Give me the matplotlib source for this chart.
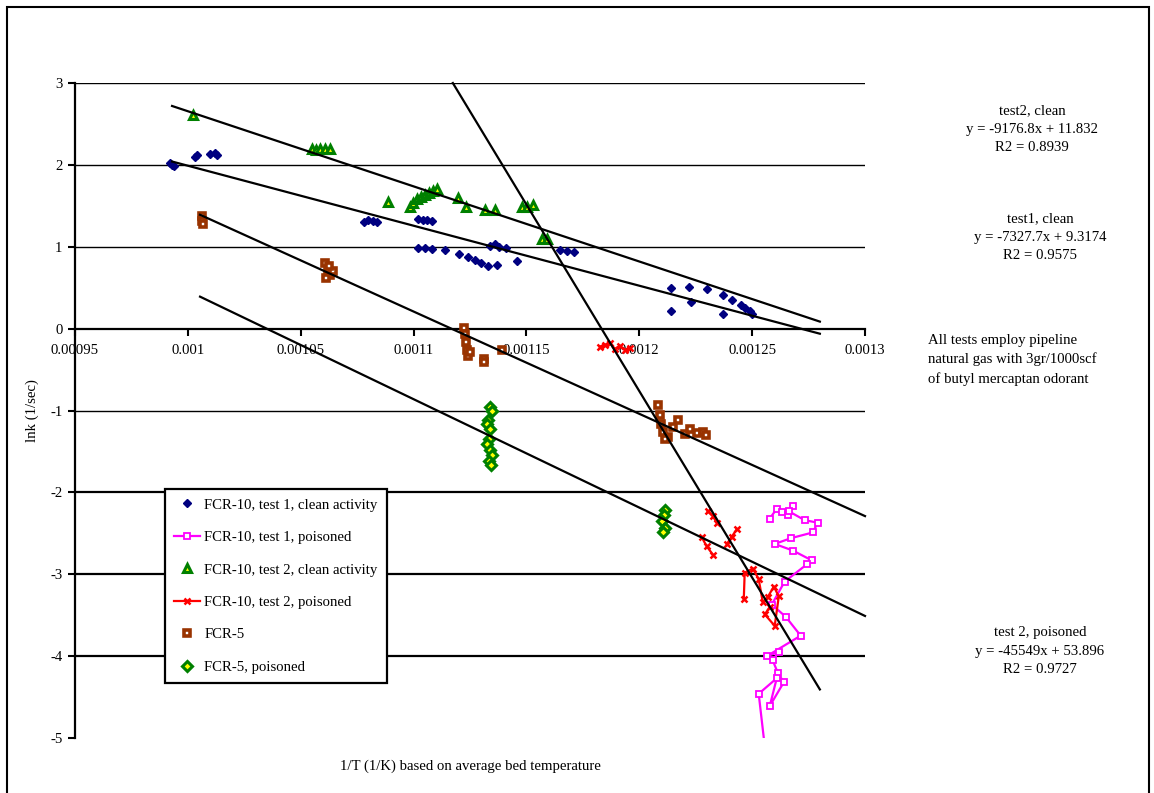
import numpy as np
import matplotlib
matplotlib.use("Agg")
import matplotlib.pyplot as plt
from matplotlib.patches import Rectangle

plt.rcParams['font.family'] = ['Liberation Serif', 'DejaVu Serif']

# ---- axis setup ----
x_ticks = [0.00095, 0.001, 0.00105, 0.0011, 0.00115, 0.0012, 0.00125, 0.0013]
x_tick_labels = ['0.00095', '0.001', '0.00105', '0.0011', '0.00115', '0.0012', '0.00125', '0.0013']
y_ticks = [3, 2, 1, 0, -1, -2, -3, -4, -5]

# ---- FCR-10, test 1, clean activity ----
t1_clean_x = [0.000993, 0.000992, 0.000994, 0.001003, 0.001004, 0.001010, 0.001012, 0.001013,
              0.001078, 0.001080, 0.001082, 0.001084,
              0.001102, 0.001104, 0.001106, 0.001108,
              0.001102, 0.001105, 0.001108, 0.001114, 0.001120, 0.001124, 0.001127, 0.001130,
              0.001133, 0.001137, 0.001134, 0.001136, 0.001138, 0.001141, 0.001146,
              0.001165, 0.001168, 0.001171,
              0.001214, 0.001214, 0.001222, 0.001223, 0.001230, 0.001237, 0.001237, 0.001241,
              0.001245, 0.001247, 0.001249, 0.001250]
t1_clean_y = [2.00, 2.02, 1.99, 2.10, 2.12, 2.13, 2.15, 2.12,
              1.30, 1.33, 1.31, 1.30,
              1.34, 1.33, 1.33, 1.31,
              0.98, 0.98, 0.97, 0.96, 0.91, 0.87, 0.84, 0.80,
              0.77, 0.78, 1.01, 1.03, 1.00, 0.98, 0.82,
              0.96, 0.95, 0.94,
              0.50, 0.21, 0.51, 0.33, 0.48, 0.41, 0.18, 0.35,
              0.29, 0.25, 0.21, 0.18]

# ---- FCR-10, test 1, poisoned ----
t1_pois_x = [0.0012578, 0.0012609, 0.0012631, 0.0012658, 0.0012680, 0.0012662, 0.0012733,
             0.0012791, 0.0012768, 0.0012671, 0.0012600, 0.0012680, 0.0012764, 0.0012742,
             0.0012644, 0.0012587, 0.0012649, 0.0012715, 0.0012565, 0.0012618, 0.0012591,
             0.0012613, 0.0012640, 0.0012578, 0.0012609, 0.0012529, 0.0012560]
t1_pois_y = [-2.32, -2.20, -2.24, -2.28, -2.17, -2.23, -2.34,
             -2.37, -2.49, -2.56, -2.63, -2.71, -2.83, -2.88,
             -3.09, -3.37, -3.52, -3.75, -4.00, -3.95, -4.05,
             -4.20, -4.32, -4.61, -4.27, -4.46, -5.20]

# ---- FCR-10, test 2, clean activity ----
t2_clean_x = [0.0010023, 0.0010550, 0.0010567, 0.0010585, 0.0010607, 0.0010629,
              0.0010886, 0.0010984, 0.0010997, 0.0011015, 0.0011032, 0.0011050, 0.0011068,
              0.0011085, 0.0011103, 0.0011196, 0.0011232, 0.0011316, 0.0011360,
              0.0011480, 0.0011502, 0.0011528, 0.0011568, 0.0011590]
t2_clean_y = [2.61, 2.19, 2.18, 2.20, 2.20, 2.19,
              1.55, 1.48, 1.54, 1.58, 1.61, 1.63, 1.66, 1.68, 1.70,
              1.60, 1.49, 1.45, 1.45,
              1.49, 1.49, 1.51, 1.09, 1.10]

# ---- FCR-10, test 2, poisoned (blank entries break the line) ----
t2_pois_x = [0.0011825, 0.0011847, 0.0011869, 0.0011891, 0.0011914, 0.0011936, 0.0011958, np.nan,
             0.0012277, 0.0012299, 0.0012326, np.nan,
             0.0012303, 0.0012326, 0.0012343, np.nan,
             0.0012432, 0.0012410, 0.0012388, np.nan,
             0.0012463, 0.0012467, 0.0012503, 0.0012529, 0.0012547, 0.0012569, 0.0012596,
             0.0012618, 0.0012600, 0.0012556, 0.0012578]
t2_pois_y = [-0.22, -0.20, -0.17, -0.25, -0.21, -0.26, -0.24, np.nan,
             -2.55, -2.66, -2.76, np.nan,
             -2.23, -2.29, -2.37, np.nan,
             -2.45, -2.54, -2.63, np.nan,
             -3.30, -2.98, -2.93, -3.06, -3.34, -3.28, -3.15,
             -3.27, -3.63, -3.49, -3.40]

# ---- FCR-5 ----
fcr5_x = [0.0010062, 0.0010062, 0.0010065,
          0.0010607, 0.0010620, 0.0010630, 0.0010642, 0.0010610, 0.0010625,
          0.0011223, 0.0011228, 0.0011232, 0.0011236, 0.0011240, 0.0011249, 0.0011311, 0.0011313, 0.0011391,
          0.0012082, 0.0012091, 0.0012095, 0.0012104, 0.0012126, 0.0012148, 0.0012171,
          0.0012202, 0.0012224, 0.0012255, 0.0012281, 0.0012295, 0.0012113]
fcr5_y = [1.38, 1.32, 1.28,
          0.80, 0.72, 0.66, 0.70, 0.62, 0.77,
          0.01, -0.07, -0.16, -0.26, -0.33, -0.28, -0.37, -0.41, -0.26,
          -0.93, -1.05, -1.17, -1.26, -1.32, -1.20, -1.11,
          -1.29, -1.23, -1.28, -1.26, -1.30, -1.35]

# ---- FCR-5, poisoned ----
fcr5_pois_x = [0.0011338, 0.0011347, 0.0011329, 0.0011325, 0.0011338, 0.0011333, 0.0011325,
               0.0011338, 0.0011347, 0.0011333, 0.0011342,
               0.0012113, 0.0012109, 0.0012100, 0.0012113, 0.0012104]
fcr5_pois_y = [-0.96, -1.01, -1.11, -1.17, -1.23, -1.35, -1.41,
               -1.48, -1.54, -1.62, -1.67,
               -2.21, -2.28, -2.35, -2.43, -2.48]

# ---- trend lines: (slope, intercept, x_start, x_end) ----
fits = [
    (-9176.8, 11.832, 0.000993, 0.00128),    # test2, clean
    (-7327.7, 9.3174, 0.000993, 0.00128),    # test1, clean
    (-45549.0, 53.896, 0.0011174, 0.00128),  # test 2, poisoned
    (-12492.0, 13.95, 0.0010054, 0.0013),    # FCR-5
    (-13238.0, 13.70, 0.0010054, 0.0013),    # FCR-5, poisoned
]

FS = 10.6
W, H = 1154, 793
fig = plt.figure(figsize=(W / 100, H / 100), dpi=100)
ax = fig.add_axes([75 / W, 1 - 738 / H, 790 / W, 655 / H])
ax.set_xlim(0.00095, 0.0013)
ax.set_ylim(-5, 3)

# horizontal gridlines
for g, lw in [(3, 1.0), (2, 1.0), (1, 1.0), (-1, 1.0), (-2, 1.6), (-3, 1.6), (-4, 1.6)]:
    ax.axhline(g, color='black', lw=lw, zorder=1)

# trend lines
for m, b, xa, xb in fits:
    xs = np.array([xa, xb])
    ax.plot(xs, m * xs + b, color='black', lw=1.6, zorder=4, clip_on=False)

ax.plot(t1_clean_x, t1_clean_y, ls='none', marker='D', ms=4.2, color='#000080',
        mec='#000080', label='FCR-10, test 1, clean activity', zorder=3)
ax.plot(t1_pois_x, t1_pois_y, ls='-', lw=1.6, marker='s', ms=4.2, color='#FF00FF',
        mfc='white', mec='#FF00FF', mew=1.3, label='FCR-10, test 1, poisoned', zorder=3)
ax.plot(t2_clean_x, t2_clean_y, ls='none', marker='^', ms=6, color='#008000',
        mfc='#FFFF00', mec='#008000', mew=2.2, label='FCR-10, test 2, clean activity', zorder=3)
ax.plot(t2_pois_x, t2_pois_y, ls='-', lw=1.6, marker='x', ms=4.2, mew=1.8, color='#FF0000',
        label='FCR-10, test 2, poisoned', zorder=3)
ax.plot(fcr5_x, fcr5_y, ls='none', marker='s', ms=4.6, color='#993300',
        mfc='white', mec='#993300', mew=2.6, label='FCR-5', zorder=3)
ax.plot(fcr5_pois_x, fcr5_pois_y, ls='none', marker='D', ms=4.8, color='#008000',
        mfc='#FFFF00', mec='#008000', mew=2.2, label='FCR-5, poisoned', zorder=3)

# axes styling
for s in ['top', 'right']:
    ax.spines[s].set_visible(False)
ax.spines['bottom'].set_position(('data', 0))
ax.spines['bottom'].set_linewidth(1.6)
ax.spines['left'].set_linewidth(1.6)
ax.set_xticks(x_ticks)
ax.set_xticklabels(x_tick_labels)
ax.set_yticks(y_ticks)
ax.set_yticklabels([str(v) for v in y_ticks])
ax.tick_params(axis='x', direction='out', length=5, width=1.5, pad=6, labelsize=FS)
ax.tick_params(axis='y', direction='out', length=5, width=1.5, pad=4, labelsize=FS)

ax.set_ylabel('lnk (1/sec)', fontsize=FS, labelpad=8)
ax.text(0.5, -(766 - 738) / 655, '1/T (1/K) based on average bed temperature',
        transform=ax.transAxes, ha='center', va='center', fontsize=FS)

leg = ax.legend(loc='lower left', bbox_to_anchor=((165 - 75) / 790, (738 - 683) / 655),
                borderaxespad=0, fontsize=FS,
                frameon=True, fancybox=False, edgecolor='black', framealpha=1,
                handlelength=1.75, labelspacing=1.3, borderpad=0.62, handletextpad=0.3)
leg.get_frame().set_linewidth(1.6)
leg.set_zorder(10)

# trend line annotations
ls = 1.54
fig.text(1032 / W, 1 - 129 / H, 'test2, clean\ny = -9176.8x + 11.832\nR2 = 0.8939',
         ha='center', va='center', fontsize=FS, linespacing=ls)
fig.text(1040 / W, 1 - 237 / H, 'test1, clean\ny = -7327.7x + 9.3174\nR2 = 0.9575',
         ha='center', va='center', fontsize=FS, linespacing=ls)
fig.text(928 / W, 1 - 360 / H, 'All tests employ pipeline\nnatural gas with 3gr/1000scf\nof butyl mercaptan odorant',
         ha='left', va='center', fontsize=FS, linespacing=ls)
fig.text(1040 / W, 1 - 651 / H, 'test 2, poisoned\ny = -45549x + 53.896\nR2 = 0.9727',
         ha='center', va='center', fontsize=FS, linespacing=ls)

# chart area border
fig.patches.append(Rectangle((7 / W, -0.05), (1149 - 7) / W, 1.05 - 7 / H,
                             transform=fig.transFigure, fill=False,
                             edgecolor='black', lw=1.5))

fig.savefig('out.png', dpi=100)
